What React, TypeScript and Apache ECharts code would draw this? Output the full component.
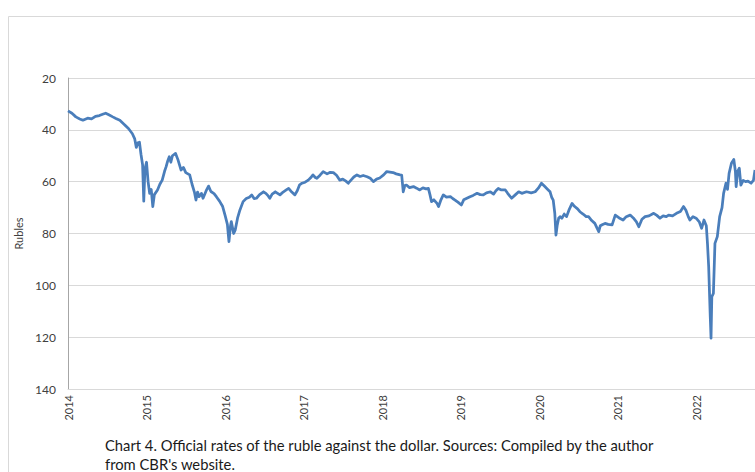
import React, { useEffect, useRef } from "react";
import * as echarts from "echarts";

// Decimal year of each observation
const dates: number[] = [
  2014.0, 2014.05, 2014.1, 2014.15, 2014.19, 2014.25, 2014.3, 2014.35, 2014.4, 2014.45,
  2014.48, 2014.52, 2014.57, 2014.61, 2014.66, 2014.72, 2014.77, 2014.82, 2014.85, 2014.87,
  2014.89, 2014.91, 2014.93, 2014.95, 2014.965, 2014.98, 2015.0, 2015.02, 2015.04, 2015.06,
  2015.08, 2015.1, 2015.14, 2015.17, 2015.2, 2015.23, 2015.25, 2015.27, 2015.29, 2015.31,
  2015.33, 2015.37, 2015.4, 2015.44, 2015.47, 2015.5, 2015.55, 2015.58, 2015.61, 2015.63,
  2015.65, 2015.67, 2015.7, 2015.72, 2015.76, 2015.79, 2015.82, 2015.86, 2015.89, 2015.93,
  2015.97, 2016.0, 2016.03, 2016.05, 2016.07, 2016.08, 2016.11, 2016.13, 2016.16, 2016.19,
  2016.23, 2016.27, 2016.31, 2016.34, 2016.37, 2016.4, 2016.44, 2016.49, 2016.52, 2016.55,
  2016.57, 2016.6, 2016.64, 2016.67, 2016.7, 2016.74, 2016.78, 2016.81, 2016.85, 2016.89,
  2016.92, 2016.95, 2016.98, 2017.02, 2017.06, 2017.09, 2017.12, 2017.15, 2017.17, 2017.21,
  2017.25, 2017.3, 2017.34, 2017.38, 2017.42, 2017.46, 2017.5, 2017.54, 2017.57, 2017.61,
  2017.64, 2017.68, 2017.72, 2017.76, 2017.81, 2017.85, 2017.89, 2017.93, 2017.97, 2018.02,
  2018.06, 2018.1, 2018.14, 2018.18, 2018.23, 2018.25, 2018.27, 2018.29, 2018.31, 2018.35,
  2018.4, 2018.44, 2018.48, 2018.52, 2018.56, 2018.59, 2018.61, 2018.63, 2018.66, 2018.7,
  2018.72, 2018.75, 2018.78, 2018.82, 2018.87, 2018.9, 2018.93, 2018.97, 2019.01, 2019.04,
  2019.08, 2019.12, 2019.16, 2019.21, 2019.25, 2019.29, 2019.33, 2019.38, 2019.42, 2019.45,
  2019.48, 2019.52, 2019.57, 2019.6, 2019.65, 2019.7, 2019.74, 2019.78, 2019.84, 2019.9,
  2019.95, 2019.99, 2020.03, 2020.07, 2020.11, 2020.14, 2020.16, 2020.18, 2020.2, 2020.215,
  2020.23, 2020.25, 2020.27, 2020.29, 2020.32, 2020.35, 2020.38, 2020.42, 2020.45, 2020.49,
  2020.52, 2020.56, 2020.6, 2020.63, 2020.67, 2020.71, 2020.74, 2020.76, 2020.78, 2020.81,
  2020.84, 2020.88, 2020.93, 2020.97, 2021.02, 2021.07, 2021.11, 2021.16, 2021.2, 2021.24,
  2021.27, 2021.31, 2021.35, 2021.4, 2021.46, 2021.5, 2021.54, 2021.58, 2021.62, 2021.65,
  2021.7, 2021.75, 2021.8, 2021.84, 2021.87, 2021.9, 2021.92, 2021.96, 2022.0, 2022.04,
  2022.07, 2022.1, 2022.13, 2022.145, 2022.16, 2022.18, 2022.19, 2022.2, 2022.22, 2022.24,
  2022.27, 2022.3, 2022.33, 2022.35, 2022.38, 2022.4, 2022.42, 2022.45, 2022.48, 2022.5,
  2022.51, 2022.53, 2022.55, 2022.57, 2022.6, 2022.63, 2022.66, 2022.7, 2022.73, 2022.75,
];

// Official USD rate, rubles
const rubles: number[] = [
  32.7, 33.6, 35.0, 35.8, 36.3, 35.5, 35.8, 34.8, 34.5, 33.9,
  33.6, 34.2, 35.0, 35.6, 36.3, 38.0, 39.5, 41.5, 43.5, 46.8,
  45.0, 44.8, 49.5, 53.5, 67.5, 55.0, 52.5, 60.0, 64.5, 63.0,
  69.6, 65.0, 63.2, 61.0, 59.4, 56.0, 54.2, 52.0, 50.4, 52.5,
  50.0, 49.1, 51.5, 55.5, 54.5, 56.5, 57.4, 61.0, 64.0, 67.1,
  64.0, 65.8, 64.5, 66.4, 63.5, 61.7, 63.8, 64.6, 65.8, 67.5,
  69.6, 72.9, 76.5, 83.1, 77.0, 75.4, 80.0, 78.6, 74.0, 70.9,
  67.7, 66.5, 66.0, 65.1, 66.5, 66.4, 65.0, 63.9, 64.5, 65.5,
  66.4, 64.8, 63.9, 64.5, 65.1, 64.0, 63.2, 62.6, 64.0, 65.1,
  63.5, 61.2, 60.6, 60.2, 59.4, 58.5, 57.4, 58.4, 58.7, 57.5,
  56.1, 57.0, 56.4, 56.5, 57.5, 59.4, 59.0, 59.8, 60.6, 59.2,
  58.2, 57.4, 58.0, 57.6, 58.1, 58.7, 60.0, 59.0, 58.6, 57.4,
  56.1, 56.3, 56.5, 57.0, 57.4, 57.5, 63.9, 61.5, 61.3, 62.3,
  61.9, 62.5, 63.2, 62.4, 62.8, 62.6, 65.0, 67.7, 67.0, 68.4,
  69.6, 67.0, 65.1, 66.0, 65.8, 66.5, 67.1, 68.0, 69.0, 67.0,
  66.4, 65.8, 65.3, 64.5, 65.0, 65.1, 64.3, 63.9, 64.8, 63.5,
  62.6, 63.2, 63.2, 64.5, 66.4, 65.0, 63.9, 64.5, 63.9, 64.3,
  63.9, 62.5, 60.6, 61.8, 63.0, 63.9, 66.0, 67.1, 72.2, 80.6,
  77.0, 74.0, 73.5, 74.1, 72.5, 73.5, 71.0, 68.4, 69.5, 70.5,
  71.6, 72.5, 73.5, 73.5, 75.0, 76.1, 78.0, 79.3, 77.0, 76.5,
  76.1, 76.5, 76.7, 72.9, 74.0, 74.8, 73.5, 72.9, 74.0, 75.5,
  77.4, 74.5, 73.5, 73.2, 72.2, 73.0, 74.1, 73.2, 73.5, 72.9,
  73.2, 72.2, 71.5, 69.6, 71.0, 73.5, 74.8, 73.5, 74.1, 75.5,
  78.0, 74.8, 77.0, 84.0, 92.8, 112.0, 120.4, 104.4, 103.1, 83.8,
  81.2, 73.5, 70.0, 64.5, 60.6, 63.0, 56.8, 52.9, 51.4, 56.0,
  61.9, 56.0, 54.8, 61.3, 59.5, 60.0, 59.8, 60.6, 59.5, 55.5,
];

const yTicks: number[] = [20, 40, 60, 80, 100, 120, 140];
const yearLabels: number[] = [2014, 2015, 2016, 2017, 2018, 2019, 2020, 2021, 2022];
const yAxisTitle = "Rubles";
const captionLine1 =
  "Chart 4. Official rates of the ruble against the dollar. Sources: Compiled by the author";
const captionLine2 = "from CBR's website.";

const FONT = "Lato, 'Open Sans', sans-serif";

export default function App() {
  const ref = useRef<HTMLDivElement>(null);

  useEffect(() => {
    if (!ref.current) return;
    const chart = echarts.init(ref.current, undefined, { renderer: "svg" });
    const points = dates.map((d, i) => [d, rubles[i]]);
    chart.setOption({
      animation: false,
      backgroundColor: "#ffffff",
      textStyle: { fontFamily: FONT },
      grid: { left: 68, top: 78, right: 0, bottom: 83, containLabel: false },
      xAxis: {
        type: "value",
        min: yearLabels[0],
        max: 2022.75,
        interval: 1,
        axisLine: { show: true, onZero: false, lineStyle: { color: "#d9d9d9", width: 1 } },
        axisTick: { show: false },
        splitLine: { show: false },
        axisLabel: {
          rotate: 90,
          margin: 6,
          fontSize: 11,
          color: "#404040",
          fontFamily: FONT,
          showMaxLabel: false,
          formatter: (v: number) => (yearLabels.indexOf(v) >= 0 ? String(v) : ""),
        },
      },
      yAxis: {
        type: "value",
        inverse: true,
        min: yTicks[0],
        max: yTicks[yTicks.length - 1],
        interval: 20,
        name: yAxisTitle,
        nameLocation: "middle",
        nameRotate: 90,
        nameGap: 40,
        nameTextStyle: { fontSize: 11, color: "#404040", fontFamily: FONT },
        axisLine: { show: true, lineStyle: { color: "#a6a6a6", width: 1 } },
        axisTick: { show: false },
        splitLine: { show: true, lineStyle: { color: "#d9d9d9", width: 1 } },
        axisLabel: { margin: 12, fontSize: 12, color: "#404040", fontFamily: FONT },
      },
      series: [
        {
          type: "line",
          data: points,
          showSymbol: false,
          symbol: "none",
          lineStyle: { color: "#4a7ebb", width: 2.75, join: "round" },
          z: 3,
        },
      ],
      graphic: [
        {
          type: "rect",
          silent: true,
          shape: { x: 8.5, y: 16.5, width: 900, height: 600 },
          style: { fill: "none", stroke: "#d9d9d9", lineWidth: 1 },
          z: -1,
        },
        {
          type: "text",
          left: 105,
          top: 437,
          style: { text: captionLine1, fontSize: 14.75, fill: "#1a1a1a", fontFamily: FONT },
        },
        {
          type: "text",
          left: 105,
          top: 456,
          style: { text: captionLine2, fontSize: 14.75, fill: "#1a1a1a", fontFamily: FONT },
        },
      ],
    });
    return () => chart.dispose();
  }, []);

  return (
    <div
      ref={ref}
      style={{ position: "fixed", left: 0, top: 0, width: 755, height: 472, background: "#fff" }}
    />
  );
}
